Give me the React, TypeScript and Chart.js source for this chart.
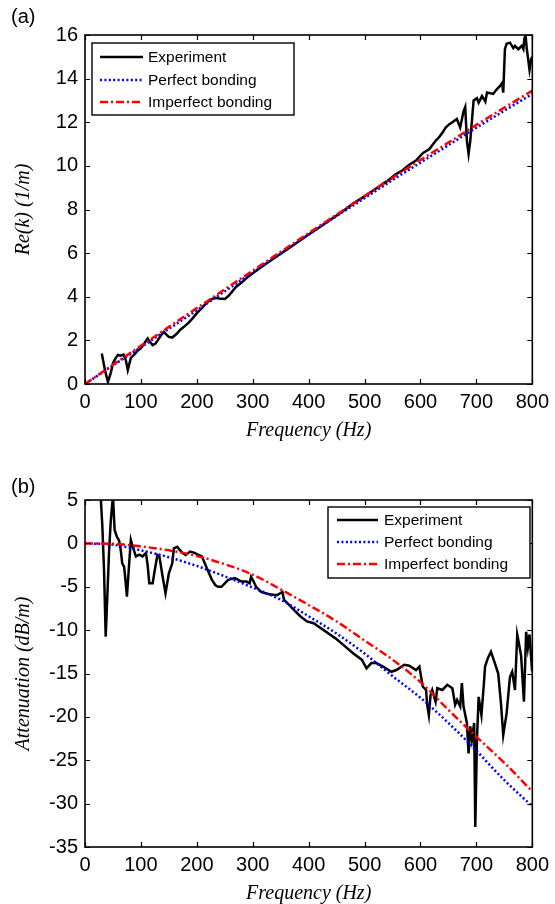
import React, { useEffect, useRef } from 'react';
import { Chart, registerables } from 'chart.js';

Chart.register(...registerables);

// ---------- data ----------
const legendLabels = ['Experiment', 'Perfect bonding', 'Imperfect bonding'];

const xTicksMin = 0;
const xTicksMax = 800;
const xTickStep = 100;

const reYMin = 0;
const reYMax = 16;
const reYStep = 2;

const attYMin = -35;
const attYMax = 5;
const attYStep = 5;

const theoryFreq = [0, 50, 100, 150, 200, 250, 300, 350, 400, 450, 500, 550, 600, 650, 700, 750, 800];

const reKPerfect = [0, 0.85, 1.69, 2.53, 3.38, 4.25, 5.12, 5.98, 6.85, 7.7, 8.52, 9.35, 10.15, 10.95, 11.75, 12.53, 13.3];
const reKImperfect = [0, 0.88, 1.75, 2.62, 3.48, 4.34, 5.2, 6.06, 6.92, 7.77, 8.62, 9.45, 10.27, 11.07, 11.88, 12.67, 13.45];

const attPerfect = [0, -0.15, -0.8, -1.6, -2.6, -3.8, -5.1, -6.5, -8.4, -10.4, -12.7, -15.3, -17.8, -20.7, -23.9, -27.3, -30.3];
const attImperfect = [0, -0.05, -0.35, -0.8, -1.45, -2.4, -3.6, -5.3, -7.1, -9.0, -11.2, -13.4, -16.0, -19.2, -22.3, -25.3, -28.6];

const expReFreq = [30, 36, 41, 46, 50, 55, 59, 64, 69, 73, 76.5, 79, 82, 88, 95, 100, 106, 112, 117, 121, 126, 130, 135, 141, 146, 150, 156, 164, 170, 177, 185, 192, 200, 208, 215, 221, 226, 232, 240, 250, 256, 262, 270, 280, 290, 300, 320, 340, 360, 380, 400, 420, 440, 460, 480, 500, 520, 540, 555, 568, 580, 592, 604, 616, 627, 633, 640, 645, 651, 657, 665, 671, 677, 680, 683, 686, 689, 695, 701, 704, 710, 716, 719, 730, 736, 742, 746, 748, 751, 754, 760, 766, 769, 775, 781, 784, 786, 788, 790, 795, 798, 800];
const expReVal = [1.4, 0.6, 0.1, 0.5, 0.95, 1.2, 1.33, 1.3, 1.35, 1.1, 0.64, 0.9, 1.2, 1.35, 1.55, 1.65, 1.86, 2.09, 1.9, 1.78, 1.85, 2.0, 2.2, 2.39, 2.25, 2.16, 2.13, 2.3, 2.48, 2.62, 2.8, 3.0, 3.25, 3.45, 3.65, 3.8, 3.88, 3.95, 3.92, 3.9, 4.02, 4.2, 4.45, 4.65, 4.88, 5.08, 5.45, 5.8, 6.15, 6.5, 6.85, 7.2, 7.55, 7.9, 8.28, 8.6, 8.95, 9.3, 9.6, 9.8, 10.05, 10.24, 10.58, 10.77, 11.15, 11.3, 11.55, 11.76, 11.9, 12.0, 12.15, 11.76, 12.5, 12.7, 11.15, 10.55, 11.15, 13.0, 13.1, 12.9, 13.2, 12.95, 13.36, 13.3, 13.5, 13.65, 13.8, 13.36, 15.35, 15.6, 15.65, 15.4, 15.5, 15.35, 15.5, 15.35, 15.88, 15.95, 15.4, 14.4, 14.9, 15.0];

const expAttFreq = [28, 31, 34, 37, 40, 43, 46, 50, 53, 57, 61, 64, 66.6, 70, 72, 75, 79, 82, 85, 91, 97, 103, 109, 112, 115, 121, 125, 129.5, 133, 138, 144, 150, 156, 159, 165, 174, 180, 188, 196, 203, 209, 218, 227, 233, 238, 244, 250, 256, 268, 280, 289, 294.5, 297, 300, 306, 315, 327, 339, 344, 353, 356, 365, 374, 385, 397, 409, 418, 427, 438, 448, 462, 480, 495, 503.5, 512, 521, 533, 548, 557, 571, 580, 592, 598, 604, 610, 612, 615, 618, 621, 627, 630, 639, 648, 657, 662, 665.5, 671, 674, 677, 683, 686, 689, 692, 696, 698, 701, 704, 709, 713, 715.5, 720, 726, 733, 739, 744, 748, 754, 760, 764, 769, 773, 776, 780, 785, 789, 792, 795, 799, 800];
const expAttVal = [5.5, 2, -3, -10.75, -6, -1, 2.5, 5.5, 1.54, 0.77, 0.3, -0.8, -2.3, -2.7, -4, -6.15, -2.3, 0.39, -0.3, -1.5, -1.3, -1.5, -1.1, -2.5, -4.6, -4.6, -3, -1.34, -1.5, -3.5, -5.76, -3.45, -2.3, -0.57, -0.4, -1.1, -1.34, -0.95, -1.1, -1.34, -1.5, -2.88, -4.2, -4.8, -5.0, -5.0, -4.6, -4.2, -4.0, -4.4, -4.4, -4.6, -3.85, -4.2, -5.0, -5.6, -5.84, -5.96, -5.96, -5.6, -6.5, -7.1, -7.7, -8.4, -9.0, -9.2, -9.6, -10.0, -10.5, -10.95, -11.7, -12.7, -13.4, -14.4, -13.8, -13.8, -14.2, -14.8, -14.6, -14.0, -14.1, -14.6, -14.2, -16.5, -16.9, -18.6, -19.8, -17.5, -16.9, -18.25, -16.7, -16.9, -16.3, -16.7, -18.6, -18.05, -18.8, -16.1, -18.8, -20.7, -24.2, -21.1, -22.6, -20.7, -32.7, -22.6, -17.7, -19.8, -16.5, -14.2, -13.3, -12.5, -13.8, -15.0, -18.5, -22.1, -19.6, -15.4, -14.8, -16.9, -10.5, -11.5, -13.0, -18.25, -10.2, -12, -10.5, -14.2, -14.0];

// ---------- helpers ----------
const toPts = (xs: number[], ys: number[]) => xs.map((x, i) => ({ x, y: ys[i] }));

const SANS = '"Liberation Sans", Arial, Helvetica, sans-serif';
const SERIF = '"Liberation Serif", "Times New Roman", Times, serif';

const frameTicks = {
  id: 'frameTicks',
  afterDatasetsDraw(chart: any) {
    const { ctx, chartArea: a, scales } = chart;
    ctx.save();
    ctx.strokeStyle = '#000';
    ctx.setLineDash([]);
    const L = 5;
    ctx.lineWidth = 1.2;
    ctx.beginPath();
    scales.x.ticks.forEach((t: any) => {
      const p = Math.round(scales.x.getPixelForValue(t.value)) + 0.5;
      ctx.moveTo(p, a.bottom);
      ctx.lineTo(p, a.bottom - L);
      ctx.moveTo(p, a.top);
      ctx.lineTo(p, a.top + L);
    });
    scales.y.ticks.forEach((t: any) => {
      const p = Math.round(scales.y.getPixelForValue(t.value)) + 0.5;
      ctx.moveTo(a.left, p);
      ctx.lineTo(a.left + L, p);
      ctx.moveTo(a.right, p);
      ctx.lineTo(a.right - L, p);
    });
    ctx.stroke();
    ctx.lineWidth = 1.6;
    ctx.strokeRect(a.left, a.top, a.right - a.left, a.bottom - a.top);
    ctx.restore();
  },
};

const boxLegend = {
  id: 'boxLegend',
  afterDraw(chart: any, _args: any, opts: any) {
    const { ctx } = chart;
    const ds = chart.data.datasets;
    ctx.save();
    ctx.fillStyle = '#fff';
    ctx.fillRect(opts.left, opts.top, opts.width, opts.height);
    ctx.setLineDash([]);
    ctx.strokeStyle = '#000';
    ctx.lineWidth = 1.4;
    ctx.strokeRect(opts.left, opts.top, opts.width, opts.height);
    ds.forEach((d: any, i: number) => {
      const y = opts.rowY[i];
      ctx.beginPath();
      ctx.strokeStyle = d.borderColor;
      ctx.lineWidth = d.borderWidth;
      ctx.setLineDash(d.borderDash || []);
      ctx.moveTo(opts.lineStart, y);
      ctx.lineTo(opts.lineEnd, y);
      ctx.stroke();
      ctx.setLineDash([]);
      ctx.fillStyle = '#000';
      ctx.font = `15.5px ${SANS}`;
      ctx.textBaseline = 'middle';
      ctx.textAlign = 'left';
      ctx.fillText(d.label, opts.textX, y + 0.5);
    });
    ctx.restore();
  },
};

function makeDatasets(expX: number[], expY: number[], perf: number[], imperf: number[]) {
  return [
    {
      label: legendLabels[0],
      data: toPts(expX, expY),
      borderColor: '#000000',
      borderWidth: 2.5,
      pointRadius: 0,
      tension: 0,
      order: 3,
    },
    {
      label: legendLabels[1],
      data: toPts(theoryFreq, perf),
      borderColor: '#0000ff',
      borderWidth: 2.5,
      borderDash: [2, 2.4],
      pointRadius: 0,
      cubicInterpolationMode: 'monotone',
      order: 2,
    },
    {
      label: legendLabels[2],
      data: toPts(theoryFreq, imperf),
      borderColor: '#ff0000',
      borderWidth: 2.5,
      borderDash: [8, 3, 2, 3],
      pointRadius: 0,
      cubicInterpolationMode: 'monotone',
      order: 1,
    },
  ];
}

function makeOptions(p: {
  yMin: number; yMax: number; yStep: number; yTitle: string;
  padTop: number; xAxisH: number; xTitlePadBottom: number; legend: any;
}) {
  return {
    responsive: false,
    animation: false,
    layout: { padding: { top: p.padTop, right: 17, left: 0, bottom: 0 } },
    plugins: {
      legend: { display: false },
      tooltip: { enabled: false },
      boxLegend: p.legend,
    },
    scales: {
      x: {
        type: 'linear',
        min: xTicksMin,
        max: xTicksMax,
        grid: { display: false, drawTicks: false },
        border: { display: false },
        ticks: {
          stepSize: xTickStep,
          autoSkip: false,
          maxRotation: 0,
          padding: 6,
          color: '#000',
          font: { family: SANS, size: 20 },
        },
        title: {
          display: true,
          text: 'Frequency (Hz)',
          color: '#000',
          font: { family: SERIF, size: 20, style: 'italic', lineHeight: 1 },
          padding: { top: 0, bottom: p.xTitlePadBottom },
        },
        afterFit: (s: any) => { s.height = p.xAxisH; },
      },
      y: {
        type: 'linear',
        min: p.yMin,
        max: p.yMax,
        grid: { display: false, drawTicks: false },
        border: { display: false },
        ticks: {
          stepSize: p.yStep,
          autoSkip: false,
          padding: 7,
          color: '#000',
          font: { family: SANS, size: 20 },
        },
        title: {
          display: true,
          text: p.yTitle,
          color: '#000',
          font: { family: SERIF, size: 20, style: 'italic', lineHeight: 1 },
          padding: { top: 13.5, bottom: 0 },
        },
        afterFit: (s: any) => { s.width = 85; },
      },
    },
  };
}

export default function App() {
  const topRef = useRef<HTMLCanvasElement>(null);
  const botRef = useRef<HTMLCanvasElement>(null);

  useEffect(() => {
    const c1 = new Chart(topRef.current as HTMLCanvasElement, {
      type: 'line',
      data: { datasets: makeDatasets(expReFreq, expReVal, reKPerfect, reKImperfect) as any },
      options: makeOptions({
        yMin: reYMin, yMax: reYMax, yStep: reYStep, yTitle: 'Re(k) (1/m)',
        padTop: 35, xAxisH: 68, xTitlePadBottom: 11,
        legend: { left: 92, top: 43, width: 202, height: 72, rowY: [57, 80, 102], lineStart: 100, lineEnd: 143, textX: 148 },
      }) as any,
      plugins: [frameTicks, boxLegend],
    });
    const c2 = new Chart(botRef.current as HTMLCanvasElement, {
      type: 'line',
      data: { datasets: makeDatasets(expAttFreq, expAttVal, attPerfect, attImperfect) as any },
      options: makeOptions({
        yMin: attYMin, yMax: attYMax, yStep: attYStep, yTitle: 'Attenuation (dB/m)',
        padTop: 48, xAxisH: 57, xTitlePadBottom: 0.7,
        legend: { left: 328, top: 55, width: 202, height: 71, rowY: [68, 90, 112], lineStart: 337, lineEnd: 378, textX: 384 },
      }) as any,
      plugins: [frameTicks, boxLegend],
    });
    return () => { c1.destroy(); c2.destroy(); };
  }, []);

  const panelLabel: React.CSSProperties = {
    position: 'absolute',
    left: 11,
    fontFamily: SANS,
    fontSize: 20,
    lineHeight: '20px',
    color: '#000',
  };

  return (
    <div style={{ position: 'absolute', left: 0, top: 0, width: 555, height: 904, background: '#fff', overflow: 'hidden' }}>
      <canvas ref={topRef} width={555} height={452} style={{ position: 'absolute', left: 0, top: 0 }} />
      <canvas ref={botRef} width={555} height={452} style={{ position: 'absolute', left: 0, top: 452 }} />
      <div style={{ ...panelLabel, top: 6 }}>(a)</div>
      <div style={{ ...panelLabel, top: 476 }}>(b)</div>
    </div>
  );
}
